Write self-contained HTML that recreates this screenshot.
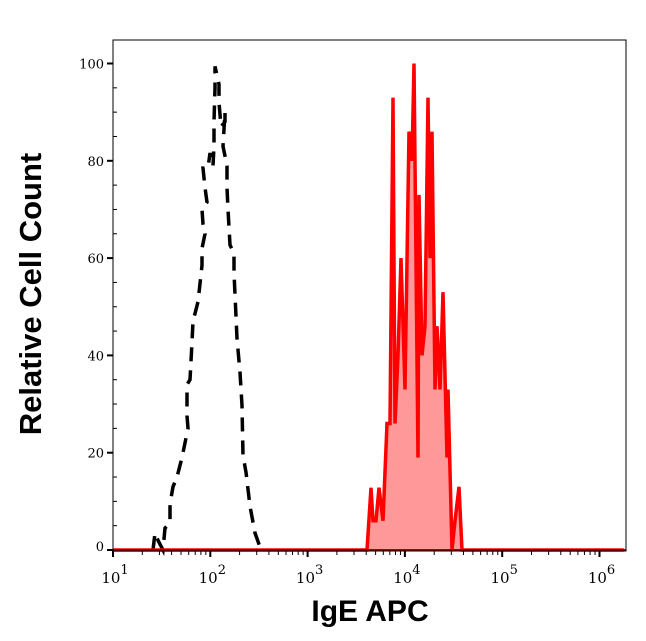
<!DOCTYPE html>
<html><head><meta charset="utf-8"><style>
body{margin:0;background:#fff;width:646px;height:641px;overflow:hidden}
svg{display:block}
</style></head><body>
<svg id="chart" width="646" height="641" xmlns="http://www.w3.org/2000/svg">
<text x="30" y="294" transform="rotate(-90 30 294)" dy="11" font-family="Liberation Sans, sans-serif" font-weight="bold" font-size="31" text-anchor="middle">Relative Cell Count</text>
<text x="370" y="621" font-family="Liberation Sans, sans-serif" font-weight="bold" font-size="30" text-anchor="middle">IgE APC</text>
</svg>
<script>
const yTicks=[0,20,40,60,80,100];
const xDecades=[1,2,3,4,5,6];
const isoLog=[1.411,1.432,1.462,1.514,1.534,1.586,1.586,1.617,1.658,1.709,1.750,1.771,1.761,1.761,1.791,1.812,1.822,1.874,1.915,1.915,1.946,1.925,1.915,1.966,1.946,1.925,1.976,1.997,2.028,2.038,2.038,2.048,2.048,2.089,2.089,2.110,2.151,2.151,2.131,2.172,2.172,2.182,2.202,2.244,2.244,2.274,2.305,2.326,2.336,2.367,2.408,2.459,2.521];
const isoVal=[0,3.5,2,0,4.5,5.5,9.5,13,15,19,23,25,27.6,34,35,42.7,47,51,58.5,62,65,67,70,71.5,74.5,78.5,78.5,81.6,79,83,88,95,99.4,95.7,92,87,88,90,83,79,74.5,70,62.7,61,57,43.5,36.5,29.7,19.4,16,9,3.5,0];
const stainLog=[1.0,3.60,3.610,3.652,3.672,3.703,3.734,3.775,3.816,3.847,3.878,3.898,3.929,3.960,4.001,4.042,4.073,4.094,4.135,4.145,4.176,4.207,4.237,4.258,4.279,4.309,4.330,4.361,4.392,4.433,4.443,4.484,4.515,4.556,4.587,6.25];
const stainVal=[0,0,0,12.8,6,6,12.8,6,26,26,93,26,40,60,33,86,80,100,19,73,40,46,93,60,86,33,46,33,53,19,33,0,6,13,0,0];
const L=113,R=626,T=40,B=551;
const X=l=>L+(l-1)*97.3;
const Y=v=>550-v*4.865;
const svg=document.getElementById('chart');
const NS='http://www.w3.org/2000/svg';
function mk(tag,attrs){const e=document.createElementNS(NS,tag);for(const k in attrs)e.setAttribute(k,attrs[k]);svg.appendChild(e);return e;}
const pts=(ls,vs)=>ls.map((l,i)=>X(l).toFixed(1)+','+Y(vs[i]).toFixed(1)).join(' ');
const area=mk('polygon',{points:pts(stainLog,stainVal)+` ${X(6.25)},${Y(0)} ${X(1)},${Y(0)}`,fill:'#ff9999',stroke:'none'});


const il=mk('polyline',{points:pts(isoLog,isoVal),fill:'none',stroke:'#000','stroke-width':3.5,'stroke-dasharray':'14,9'});


const sl=mk('polyline',{points:pts(stainLog,stainVal),fill:'none',stroke:'#ff0000','stroke-width':3.5,'stroke-linejoin':'miter'});


const bl=mk('line',{x1:L,x2:R,y1:Y(0),y2:Y(0),stroke:'#a00000','stroke-width':2});


const fr=mk('rect',{x:L,y:T,width:R-L,height:B-T,fill:'none',stroke:'#000','stroke-width':1});


yTicks.forEach(v=>{
  const t=mk('line',{x1:L-6,x2:L,y1:Y(v),y2:Y(v),stroke:'#000','stroke-width':2});
  
  
  const tx=mk('text',{x:L-9,y:Y(v)+(v===0?1:5),'text-anchor':'end','font-family':'DejaVu Serif, serif','font-size':13});
  tx.textContent=v;
  
  
});
for(let v=5;v<100;v+=5){if(v%20===0)continue;
  const m=mk('line',{x1:L,x2:L+4,y1:Y(v),y2:Y(v),stroke:'#000','stroke-width':1});
  
  }
xDecades.forEach(d=>{
  const t=mk('line',{x1:X(d),x2:X(d),y1:B,y2:B+6,stroke:'#000','stroke-width':2});
  
  
  const tx=mk('text',{x:X(d)+2,y:B+32,'text-anchor':'middle','font-family':'DejaVu Serif, serif','font-size':15});
  tx.innerHTML='10<tspan dy="-9" font-size="13">'+d+'</tspan>';
  
  
  if(d<6)for(let k=2;k<10;k++){const xx=X(d+Math.log10(k));if(xx>R)break;
    const m=mk('line',{x1:xx,x2:xx,y1:B,y2:B+4,stroke:'#000','stroke-width':1});
    
    }
});
</script>
</body></html>
